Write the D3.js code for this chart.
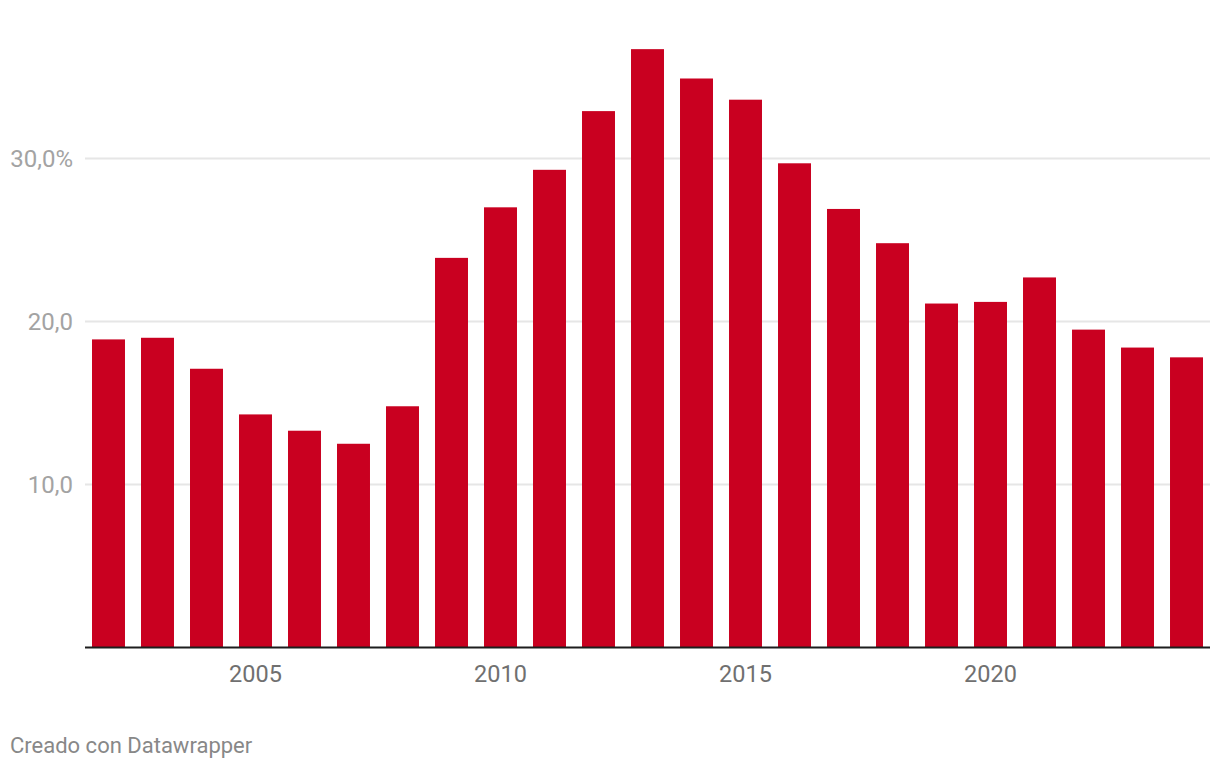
<!DOCTYPE html>
<html>
  <head>
    <script src="https://d3js.org/d3.v7.min.js"></script>
    <style>
      body { margin: 0; background: #fff; }
      text { font-family: Roboto, "Noto Sans", sans-serif; }
    </style>
  </head>
  <body>
    <script>

const years = d3.range(2002, 2025);
const values = [18.9, 19.0, 17.1, 14.3, 13.3, 12.5, 14.8, 23.9, 27.0, 29.3, 32.9, 36.7,
                34.9, 33.6, 29.7, 26.9, 24.8, 21.1, 21.2, 22.7, 19.5, 18.4, 17.8];
const yTicks = [10, 20, 30];
const xTicks = [2005, 2010, 2015, 2020];

const width = 1220;
const height = 770;

const svg = d3.select("body").append("svg")
    .attr("width", width)
    .attr("height", height);

const x = d3.scaleBand()
    .domain(years)
    .range([85, 1210])
    .paddingInner(0.327)
    .paddingOuter(0.143);

const y = d3.scaleLinear()
    .domain([0, 30])
    .range([647.6, 158.4]);

// gridlines
svg.append("g")
  .selectAll("line")
  .data(yTicks)
  .join("line")
    .attr("x1", 85)
    .attr("x2", 1210)
    .attr("y1", d => y(d))
    .attr("y2", d => y(d))
    .attr("stroke", "#e6e6e6")
    .attr("stroke-width", 2);

svg.append("g")
  .selectAll("text")
  .data(yTicks)
  .join("text")
    .attr("x", 73)
    .attr("y", d => y(d))
    .attr("dy", "0.36em")
    .attr("text-anchor", "end")
    .attr("fill", "#a3a3a3")
    .attr("font-size", 24)
    .text(d => d === 30 ? "30,0%" : d3.format(".1f")(d).replace(".", ","));

svg.append("g")
  .selectAll("rect")
  .data(values)
  .join("rect")
    .attr("x", (d, i) => x(years[i]))
    .attr("width", x.bandwidth())
    .attr("y", d => y(d))
    .attr("height", d => y(0) - y(d))
    .attr("fill", "#c90020");

// baseline
svg.append("line")
    .attr("x1", 85)
    .attr("x2", 1210)
    .attr("y1", y(0))
    .attr("y2", y(0))
    .attr("stroke", "#1d1d1d")
    .attr("stroke-width", 2);

svg.append("g")
  .selectAll("text")
  .data(xTicks)
  .join("text")
    .attr("x", d => x(d) + x.bandwidth() / 2)
    .attr("y", 682)
    .attr("text-anchor", "middle")
    .attr("fill", "#707070")
    .attr("font-size", 23.5)
    .text(d => d);

svg.append("text")
    .attr("x", 10)
    .attr("y", 753)
    .attr("fill", "#888")
    .attr("font-size", 22)
    .text("Creado con Datawrapper");

    </script>
  </body>
</html>
